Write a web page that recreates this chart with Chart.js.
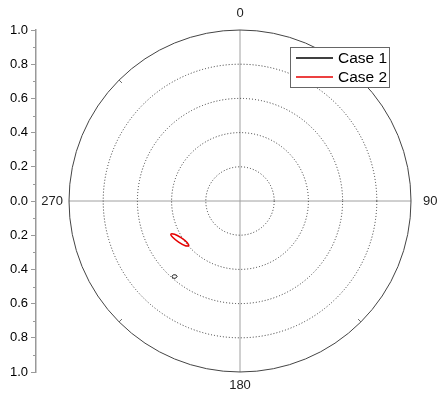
<!DOCTYPE html>
<html>
<head>
<meta charset="utf-8">
<script src="https://cdn.jsdelivr.net/npm/chart.js@4"></script>
<style>
  body { margin: 0; background: #fff; }
  #wrap { width: 437px; height: 396px; }
</style>
</head>
<body>
<div id="wrap"><canvas id="grafikPolar"></canvas></div>
<script>
// angle in degrees (clockwise from top), radius 0..1
const case1Angle = [219.8, 219.8, 220.3, 221.3, 222.0, 222.1, 221.6, 220.6, 219.8];
const case1Radius = [0.575, 0.586, 0.593, 0.597, 0.594, 0.583, 0.577, 0.572, 0.575];
const case2Angle = [228.6, 230.7, 236.2, 241.7, 244.4, 243.0, 237.8, 231.6, 228.6];
const case2Radius = [0.397, 0.413, 0.432, 0.447, 0.448, 0.429, 0.405, 0.393, 0.397];
const seriesNames = ['Case 1', 'Case 2'];
const seriesColors = ['#000000', '#e60000'];
const ringValues = [0.2, 0.4, 0.6, 0.8];
const angleLabels = ['0', '90', '180', '270'];
const angleTicks = [0, 90, 180, 270];
const minorAngleTicks = [45, 135, 225, 315];

const toXY = (angles, radii) => angles.map((a, i) => {
    const t = a * Math.PI / 180;
    return { x: radii[i] * Math.sin(t), y: radii[i] * Math.cos(t) };
});

const FONT = "'Liberation Sans', Arial, sans-serif";

const polarGrid = {
    id: 'polarGrid',
    beforeDatasetsDraw(chart) {
        const { ctx, scales: { x, y } } = chart;
        const cx = x.getPixelForValue(0), cy = y.getPixelForValue(0);
        const R = x.getPixelForValue(1) - cx;
        ctx.save();
        // cross lines
        ctx.strokeStyle = '#a0a0a0';
        ctx.lineWidth = 1;
        ctx.beginPath();
        ctx.moveTo(cx - R, cy); ctx.lineTo(cx + R, cy);
        ctx.moveTo(cx, cy - R); ctx.lineTo(cx, cy + R);
        ctx.stroke();
        // dotted rings
        ctx.strokeStyle = '#333';
        ctx.setLineDash([1, 2]);
        ringValues.forEach(v => {
            ctx.beginPath();
            ctx.arc(cx, cy, v * R, 0, Math.PI * 2);
            ctx.stroke();
        });
        ctx.setLineDash([]);
        // outer ring
        ctx.strokeStyle = '#444';
        ctx.beginPath();
        ctx.arc(cx, cy, R, 0, Math.PI * 2);
        ctx.stroke();
        // minor angle ticks
        ctx.strokeStyle = '#666';
        minorAngleTicks.forEach(a => {
            const t = a * Math.PI / 180;
            const sx = Math.sin(t), sy = -Math.cos(t);
            ctx.beginPath();
            ctx.moveTo(cx + sx * R, cy + sy * R);
            ctx.lineTo(cx + sx * (R - 4), cy + sy * (R - 4));
            ctx.stroke();
        });
        // angle labels
        ctx.fillStyle = '#222';
        ctx.font = '13px ' + FONT;
        ctx.textBaseline = 'middle';
        angleTicks.forEach((a, i) => {
            const lab = angleLabels[i];
            if (a === 0) { ctx.textAlign = 'center'; ctx.fillText(lab, cx, cy - R - 17); }
            if (a === 90) { ctx.textAlign = 'left'; ctx.fillText(lab, cx + R + 12, cy); }
            if (a === 180) { ctx.textAlign = 'center'; ctx.fillText(lab, cx, cy + R + 13); }
            if (a === 270) { ctx.textAlign = 'right'; ctx.fillText(lab, cx - R - 6, cy); }
        });
        ctx.restore();
    },
    afterDraw(chart) {
        const { ctx, scales: { y } } = chart;
        ctx.save();
        // minor ticks on left axis
        ctx.strokeStyle = '#999';
        ctx.lineWidth = 1;
        for (let v = -0.9; v < 1; v += 0.2) {
            const py = Math.round(y.getPixelForValue(v)) + 0.5;
            ctx.beginPath();
            ctx.moveTo(y.right - 3, py);
            ctx.lineTo(y.right, py);
            ctx.stroke();
        }
        // legend box
        ctx.fillStyle = '#fff';
        ctx.fillRect(290.5, 47.5, 99, 40);
        ctx.strokeStyle = '#666';
        ctx.lineWidth = 1;
        ctx.strokeRect(290.5, 47.5, 99, 40);
        ctx.font = '15.5px ' + FONT;
        ctx.textBaseline = 'middle';
        ctx.textAlign = 'left';
        seriesNames.forEach((name, i) => {
            const ly = 58 + i * 19;
            ctx.strokeStyle = seriesColors[i];
            ctx.lineWidth = 1.3;
            ctx.beginPath();
            ctx.moveTo(296, ly);
            ctx.lineTo(333, ly);
            ctx.stroke();
            ctx.fillStyle = '#000';
            ctx.fillText(name, 338, ly + 1);
        });
        ctx.restore();
    }
};

const ctx = document.getElementById('grafikPolar').getContext('2d');
const chart = new Chart(ctx, {
    type: 'scatter',
    data: {
        datasets: [{
            label: seriesNames[0],
            data: toXY(case1Angle, case1Radius),
            showLine: true,
            borderColor: seriesColors[0],
            borderWidth: 1,
            pointRadius: 0,
            tension: 0.3
        }, {
            label: seriesNames[1],
            data: toXY(case2Angle, case2Radius),
            showLine: true,
            borderColor: seriesColors[1],
            borderWidth: 1.5,
            pointRadius: 0,
            tension: 0.3
        }]
    },
    options: {
        responsive: true,
        maintainAspectRatio: false,
        animation: false,
        layout: { padding: { top: 30, bottom: 24, left: 0, right: 9 } },
        plugins: {
            legend: { display: false },
            tooltip: { enabled: false }
        },
        scales: {
            x: {
                type: 'linear',
                display: false,
                min: -1.193,
                max: 1.0994
            },
            y: {
                type: 'linear',
                min: -1,
                max: 1,
                afterFit: s => { s.width = 36; },
                ticks: {
                    stepSize: 0.2,
                    color: '#000',
                    padding: 3,
                    font: { family: FONT, size: 13 },
                    callback: v => Math.abs(v).toFixed(1)
                },
                grid: {
                    drawOnChartArea: false,
                    tickLength: 5,
                    color: '#999'
                },
                border: { color: '#999', width: 1.5 }
            }
        }
    },
    plugins: [polarGrid]
});
</script>
</body>
</html>
